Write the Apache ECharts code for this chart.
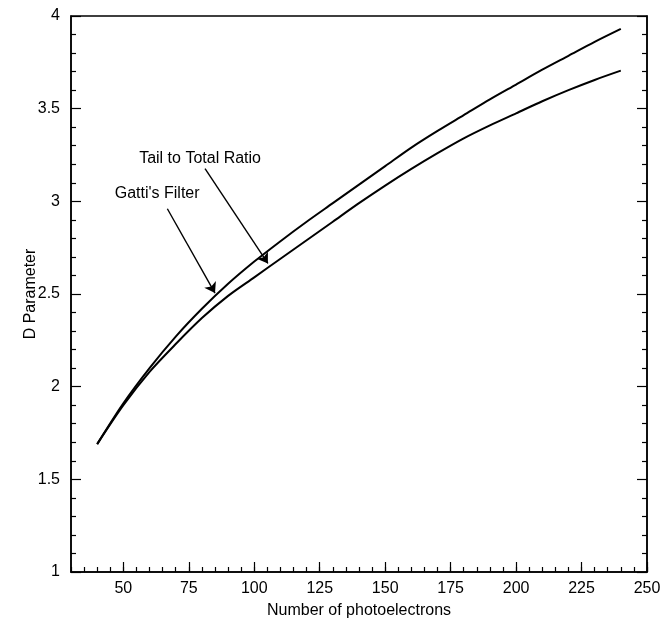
<!DOCTYPE html>
<html>
<head>
<meta charset="utf-8">
<script src="https://cdn.jsdelivr.net/npm/echarts@6/dist/echarts.min.js"></script>
<style>
  html, body { margin: 0; padding: 0; background: #fff; }
  #chart { width: 665px; height: 625px; }
</style>
</head>
<body>
<div id="chart"></div>
<script>
// data
const photoelectrons = [40, 50, 60, 70, 80, 90, 100, 110, 120, 130, 140, 150, 160, 170, 180, 190, 200, 210, 220, 230, 240];
const gattiFilter = [1.69, 1.91, 2.10, 2.27, 2.42, 2.555, 2.675, 2.785, 2.89, 2.99, 3.09, 3.19, 3.29, 3.38, 3.465, 3.55, 3.63, 3.71, 3.785, 3.86, 3.93];
const tailToTotal = [1.69, 1.90, 2.08, 2.23, 2.37, 2.49, 2.59, 2.69, 2.79, 2.89, 2.99, 3.085, 3.175, 3.26, 3.34, 3.41, 3.475, 3.54, 3.60, 3.655, 3.705];
const xTickLabels = [50, 75, 100, 125, 150, 175, 200, 225, 250];

// annotation arrows, in data units
const gattiNote = { text: "Gatti's Filter", at: [62.9, 3.044], from: [66.8, 2.96], to: [85, 2.505] };
const tailNote = { text: 'Tail to Total Ratio', at: [79.3, 3.233], from: [81.2, 3.177], to: [105.2, 2.665] };

const FONT = '"Liberation Sans", Arial, sans-serif';
const pairs = (ys) => photoelectrons.map((x, i) => [x, ys[i]]);

const note = (n) => ({
  markPoint: {
    symbol: 'circle', symbolSize: 0, silent: true,
    label: { show: true, position: 'inside', formatter: n.text, color: '#000', fontSize: 16, fontFamily: FONT },
    data: [{ coord: n.at }]
  },
  markLine: {
    silent: true, symbol: ['none', 'arrow'], symbolSize: 10,
    lineStyle: { color: '#000', width: 1.4, type: 'solid' },
    label: { show: false },
    data: [[{ coord: n.from }, { coord: n.to }]]
  }
});

const chart = echarts.init(document.getElementById('chart'));

const axisText = { color: '#000', fontSize: 16, fontFamily: FONT };
const line = { show: true, lineStyle: { color: '#000', width: 1.5 } };

chart.setOption({
  animation: false,
  grid: { left: 71, right: 18, top: 16, bottom: 53, show: true, borderColor: '#000', borderWidth: 1.5 },
  xAxis: [
    {
      type: 'value', position: 'bottom', min: 30, max: 250, interval: 5,
      axisLine: line,
      axisTick: { inside: true, length: 5, lineStyle: { color: '#000', width: 1.2 } },
      axisLabel: { ...axisText, margin: 9, customValues: xTickLabels },
      splitLine: { show: false },
      name: 'Number of photoelectrons', nameLocation: 'middle', nameGap: 31,
      nameTextStyle: { color: '#000', fontSize: 16, fontFamily: FONT }
    },
    {
      type: 'value', position: 'bottom', min: 30, max: 250,
      axisLine: { show: false },
      axisTick: { inside: true, length: 10, customValues: xTickLabels, lineStyle: { color: '#000', width: 1.2 } },
      axisLabel: { show: false },
      splitLine: { show: false }
    }
  ],
  yAxis: [
    {
      type: 'value', position: 'left', min: 1, max: 4, interval: 0.5,
      axisLine: line,
      axisTick: { inside: true, length: 10, lineStyle: { color: '#000', width: 1.2 } },
      minorTick: { show: true, splitNumber: 5, length: 5, lineStyle: { color: '#000', width: 1.2 } },
      axisLabel: { ...axisText, margin: 11 },
      splitLine: { show: false },
      name: 'D Parameter', nameLocation: 'middle', nameGap: 32, nameRotate: 90, nameMoveOverlap: false,
      nameTextStyle: { color: '#000', fontSize: 16, fontFamily: FONT }
    },
    {
      type: 'value', position: 'right', min: 1, max: 4, interval: 0.5,
      axisLine: line,
      axisTick: { inside: true, length: 10, lineStyle: { color: '#000', width: 1.2 } },
      minorTick: { show: true, splitNumber: 5, length: 5, lineStyle: { color: '#000', width: 1.2 } },
      axisLabel: { show: false },
      splitLine: { show: false }
    }
  ],
  series: [
    {
      name: "Gatti's Filter", type: 'line', data: pairs(gattiFilter),
      smooth: 0.3, showSymbol: false, lineStyle: { color: '#000', width: 2 },
      ...note(gattiNote)
    },
    {
      name: 'Tail to Total Ratio', type: 'line', data: pairs(tailToTotal),
      smooth: 0.3, showSymbol: false, lineStyle: { color: '#000', width: 2 },
      ...note(tailNote)
    }
  ]
});
</script>
</body>
</html>
